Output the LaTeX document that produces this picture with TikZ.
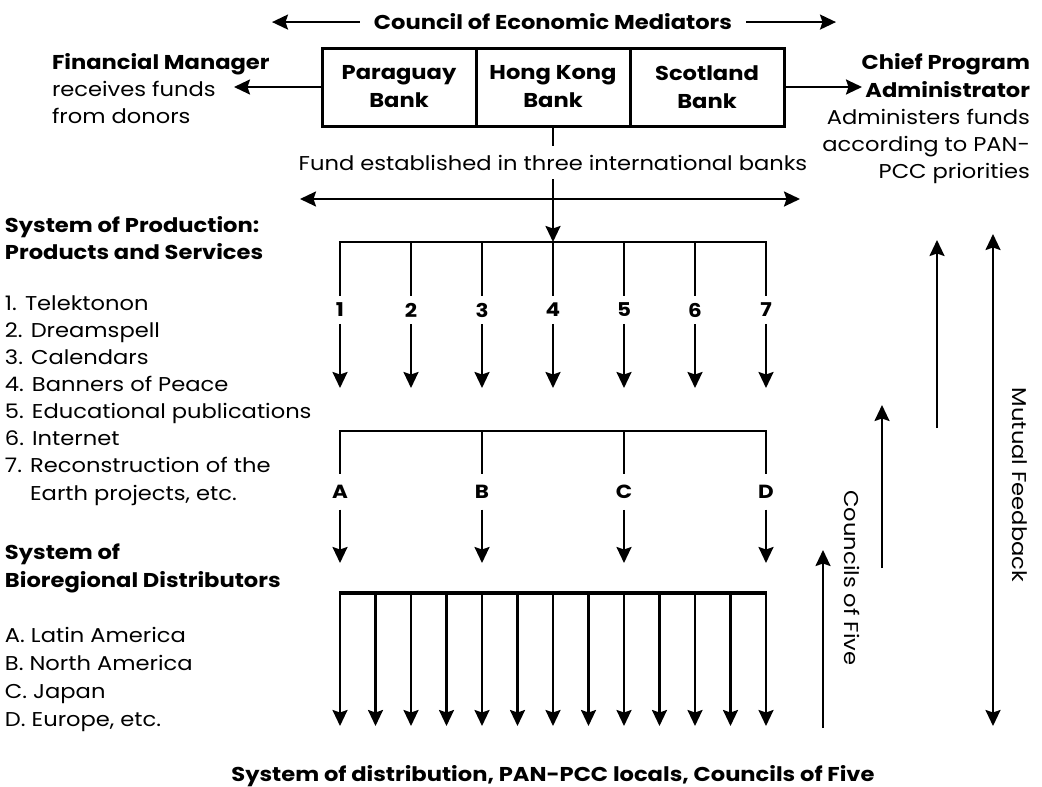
\documentclass[tikz,border=0pt]{standalone}
\usepackage{fontspec}
\setmainfont{Poppins}[FakeStretch=1.13]
\usetikzlibrary{arrows.meta}
\begin{document}
\begin{tikzpicture}[x=1pt,y=-1pt, line width=2.2pt,
  every node/.style={inner sep=0pt,outer sep=0pt},
  reg/.style={font=\fontsize{20}{22}\selectfont},
  bld/.style={font=\fontsize{20}{22}\selectfont\bfseries},
  hd/.tip={Stealth[length=16pt,width=15pt,inset=2.5pt]},
  tipd/.style={-hd},
  tipb/.style={hd-hd},
  bank/.style={draw,line width=3pt,minimum width=154pt,minimum height=78pt,align=center,font=\fontsize{20}{28}\selectfont\bfseries},
  numlbl/.style={font=\fontsize{19}{22}\selectfont\bfseries,inner ysep=7pt},
  letlbl/.style={font=\fontsize{19}{22}\selectfont\bfseries,inner ysep=11pt},
]
\useasboundingbox (0,0) rectangle (1042,787);
% title
\node[bld,anchor=base] (cem) at (553,30) {Council of Economic Mediators};
\coordinate (cemL) at (272,0);
\coordinate (cemR) at (836,0);
\draw[tipd] ([xshift=-14pt]cem.west) -- (cemL |- cem.west);
\draw[tipd] ([xshift=14pt]cem.east) -- (cemR |- cem.east);
% banks
\node[bank] (pb) at (399,87) {Paraguay\\Bank};
\node[bank] (hk) at (553,87) {Hong Kong\\Bank};
\node[bank] (sb) at (707,87) {Scotland\\Bank};
% financial manager
\node[bld,anchor=base west] (fm1) at (52,69) {Financial Manager};
\node[reg,anchor=base west] (fm2) at (52,96) {receives funds};
\node[reg,anchor=base west] (fm3) at (52,123) {from donors};
\coordinate (fmtip) at (234,87);
\draw[tipd] (pb.west) -- (fmtip);
% chief program administrator
\node[bld,anchor=base east] (cp1) at (1030,69) {Chief Program};
\node[bld,anchor=base east] (cp2) at (1030,97) {Administrator};
\node[reg,anchor=base east] (cp3) at (1030,124) {Administers funds};
\node[reg,anchor=base east] (cp4) at (1030,151) {according to PAN-};
\node[reg,anchor=base east] (cp5) at (1030,178) {PCC priorities};
\coordinate (cptip) at (862,87);
\draw[tipd] (sb.east) -- (cptip);
% fund
\node[reg,anchor=base] (fund) at (553,170) {Fund established in three international banks};
\coordinate (f1) at (553,146);
\coordinate (f2) at (553,179);
\coordinate (b1c) at (553,242);
\draw (hk.south) -- (f1);
\draw[tipd] (f2) -- (b1c);
\coordinate (hl) at (300,199);
\coordinate (hr) at (800,199);
\draw[tipb] (hl) -- (hr);
% production bar
\coordinate (b1L) at (340,242);
\coordinate (b1R) at (766,242);
\draw ([xshift=-1.1pt]b1L) -- ([xshift=1.1pt]b1R);
\foreach \k in {1,...,7}{
  \pgfmathsetmacro{\xx}{340+(\k-1)*71}
  \coordinate (t\k) at (\xx,242);
  \node[numlbl] (n\k) at (\xx,310) {\k};
  \coordinate (p\k) at (\xx,388);
  \draw (t\k) -- (n\k.north);
  \draw[tipd] (n\k.south) -- (p\k);
}
% distributors bar
\coordinate (b2L) at (340,431);
\coordinate (b2R) at (766,431);
\draw ([xshift=-1.1pt]b2L) -- ([xshift=1.1pt]b2R);
\foreach \l [count=\k] in {A,B,C,D}{
  \pgfmathsetmacro{\xx}{340+(\k-1)*142}
  \coordinate (u\k) at (\xx,431);
  \node[letlbl] (l\k) at (\xx,492) {\l};
  \coordinate (q\k) at (\xx,563);
  \draw (u\k) -- (l\k.north);
  \draw[tipd] (l\k.south) -- (q\k);
}
% locals bar
\coordinate (b3L) at (340,593);
\coordinate (b3R) at (766,593);
\draw[line width=3.5pt] ([xshift=-1.1pt]b3L) -- ([xshift=1.1pt]b3R);
\foreach \k in {0,...,12}{
  \pgfmathsetmacro{\xx}{340+\k*35.5}
  \coordinate (v\k) at (\xx,593);
  \coordinate (w\k) at (\xx,726);
  \draw[tipd] (v\k) -- (w\k);
}
\node[bld,anchor=base] (bottom) at (553,781) {System of distribution, PAN-PCC locals, Councils of Five};
% left lists
\node[bld,anchor=base west] (sp1) at (5,232) {System of Production:};
\node[bld,anchor=base west] (sp2) at (5,259) {Products and Services};
\foreach \t [count=\k] in {1. Telektonon,2. Dreamspell,3. Calendars,4. Banners of Peace,5. Educational publications,6. Internet,7. Reconstruction of the}{
  \node[reg,anchor=base west] (it\k) at (5,{310+(\k-1)*27.1}) {\t};
}
\node[reg,anchor=base west] (it8) at (5,500) {\phantom{7. }Earth projects, etc.};
\node[bld,anchor=base west] (sd1) at (5,559) {System of};
\node[bld,anchor=base west] (sd2) at (5,587) {Bioregional Distributors};
\foreach \t [count=\k] in {A. Latin America,B. North America,C. Japan,{D. Europe, etc.}}{
  \node[reg,anchor=base west] (di\k) at (5,{642+(\k-1)*28}) {\t};
}
% feedback arrows
\coordinate (a1s) at (823,728); \coordinate (a1e) at (823,550);
\coordinate (a2s) at (882,568); \coordinate (a2e) at (882,405);
\coordinate (a3s) at (937,428); \coordinate (a3e) at (937,240);
\coordinate (mfT) at (993,234); \coordinate (mfB) at (993,726);
\draw[tipd] (a1s) -- (a1e);
\draw[tipd] (a2s) -- (a2e);
\draw[tipd] (a3s) -- (a3e);
\draw[tipb] (mfT) -- (mfB);
\node[reg,rotate=-90] (cof) at (852,578) {Councils of Five};
\node[reg,rotate=-90] (mfb) at (1020,485) {Mutual Feedback};
\end{tikzpicture}
\end{document}
